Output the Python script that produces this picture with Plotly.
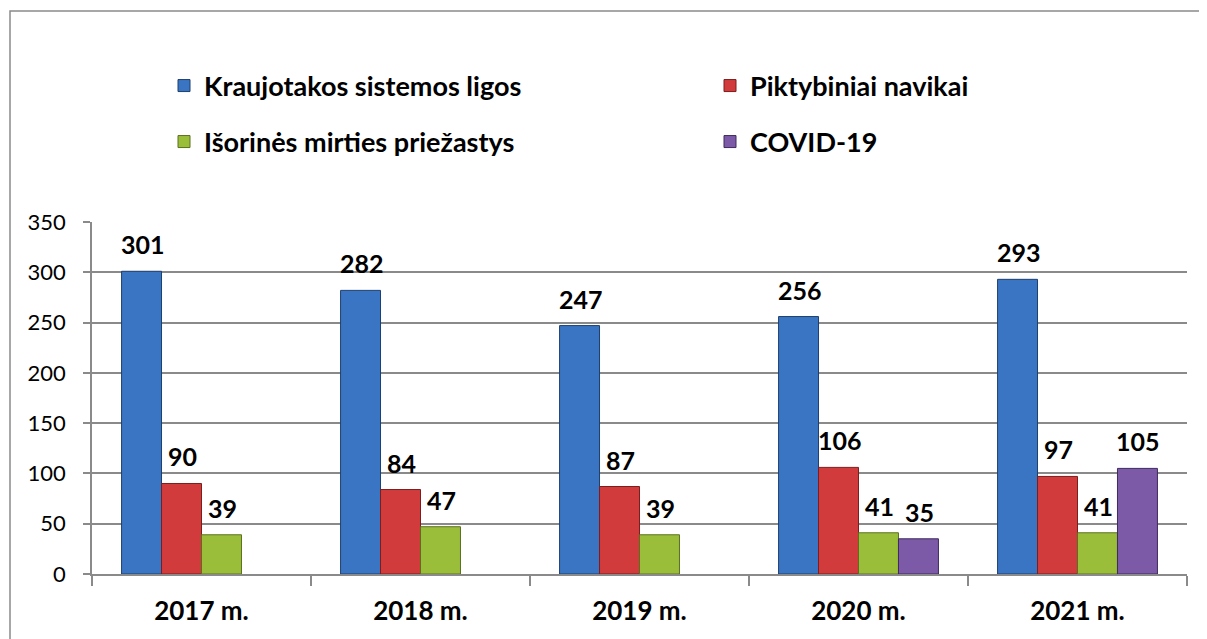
import plotly.graph_objects as go

years = ["2017 m.", "2018 m.", "2019 m.", "2020 m.", "2021 m."]
series_names = ["Kraujotakos sistemos ligos", "Piktybiniai navikai",
                "Išorinės mirties priežastys", "COVID-19"]
kraujotakos = [301, 282, 247, 256, 293]
navikai = [90, 84, 87, 106, 97]
isorines = [39, 47, 39, 41, 41]
covid = [None, None, None, 35, 105]
y_ticks = [0, 50, 100, 150, 200, 250, 300, 350]

colors = ["#3A75C4", "#D23B3B", "#9BBE3A", "#7D5AA8"]
edge = ["#1F3F6B", "#7A1E1E", "#5A7020", "#3E2A5C"]
all_series = [kraujotakos, navikai, isorines, covid]

# page body has an 8px offset; compensate in figure coordinates
OFF = 8
W, H = 1207, 639
ml, mr, mt, mb = 92 - OFF, 20 + OFF, 222 - OFF, 65 + OFF
pw, ph = W - ml - mr, H - mt - mb
y_bottom = H - mb

FONT = "Lato"
leg_ids = ["legend", "legend2", "legend3", "legend4"]
fig = go.Figure()
for i, (name, vals) in enumerate(zip(series_names, all_series)):
    fig.add_trace(go.Bar(
        x=years, y=vals, name=f"<b>{name}</b>",
        marker=dict(color=colors[i], line=dict(color=edge[i], width=1)),
        legend=leg_ids[i],
    ))

# data labels
bar_w = pw / 5 * (1 - 0.27) / 4
for i, vals in enumerate(all_series):
    off = (i - 1.5) * bar_w
    for yr, v in zip(years, vals):
        if v is None:
            continue
        fig.add_annotation(x=yr, y=v, text=f"<b>{v}</b>", showarrow=False,
                           xanchor="center", yanchor="bottom", xshift=off + 1, yshift=10,
                           font=dict(family=FONT, size=25, color="#000"))

# outer frame
fig.add_shape(type="rect", xref="paper", yref="paper",
              x0=(10 - OFF - ml) / pw, x1=(W + 20 - ml) / pw,
              y0=(y_bottom - (H + 20)) / ph, y1=(y_bottom - (11 - OFF)) / ph,
              line=dict(color="#8A8A8A", width=1.5), fillcolor="rgba(0,0,0,0)", layer="below")

def leg(x_screen, y_screen):
    return dict(orientation="h", xanchor="left", yanchor="middle",
                x=(x_screen - OFF - ml) / pw, y=(y_bottom - (y_screen - OFF)) / ph,
                font=dict(family=FONT, size=27, color="#000"),
                bgcolor="rgba(0,0,0,0)", itemclick=False, itemdoubleclick=False)

fig.update_layout(
    width=W, height=H,
    margin=dict(l=ml, r=mr, t=mt, b=mb, autoexpand=False),
    paper_bgcolor="white", plot_bgcolor="white",
    barmode="group", bargap=0.27, bargroupgap=0,
    showlegend=True,
    legend=leg(164, 86),
    legend2=leg(710, 86),
    legend3=leg(164, 142),
    legend4=leg(710, 142),
    xaxis=dict(type="category", tickson="boundaries", ticks="outside", ticklen=10,
               tickcolor="#8A8A8A", tickwidth=1.5, showline=True, linecolor="#8A8A8A",
               linewidth=1.5, showgrid=False, ticklabelstandoff=13,
               tickfont=dict(family=FONT, size=26, color="#000", weight="bold")),
    yaxis=dict(range=[0, 350], tickvals=y_ticks, ticks="outside", ticklen=7,
               tickcolor="#8A8A8A", tickwidth=1.5, showline=True, linecolor="#8A8A8A",
               linewidth=1.5, showgrid=True, gridcolor="#8A8A8A", gridwidth=1.5,
               zeroline=False, ticklabelstandoff=13,
               tickfont=dict(family=FONT, size=22, color="#000")),
)
fig.write_html("out.html")
